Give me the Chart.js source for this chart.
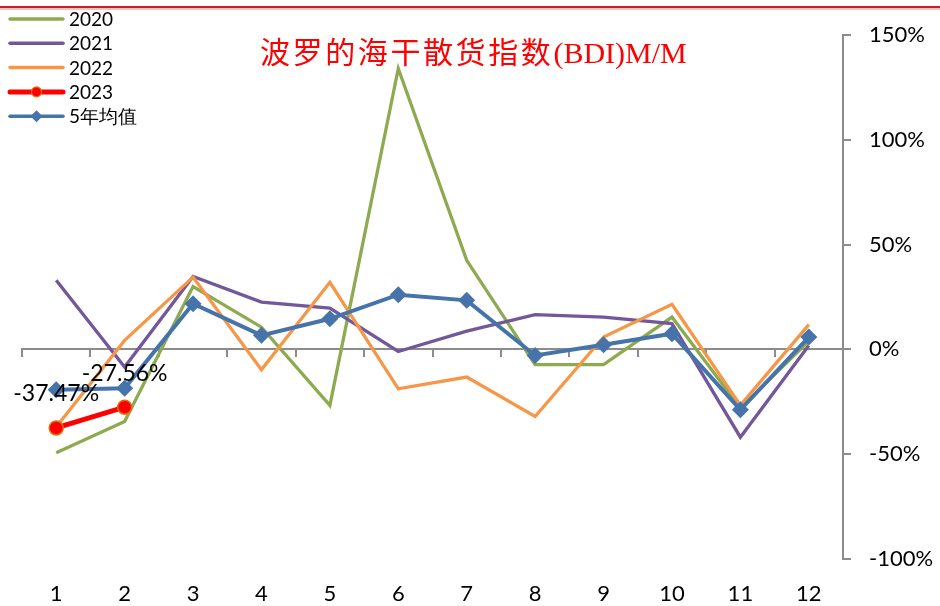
<!DOCTYPE html>
<html>
<head>
<meta charset="utf-8">
<script src="https://cdn.jsdelivr.net/npm/chart.js@4.4.1/dist/chart.umd.min.js"></script>
<style>
  html, body { margin: 0; padding: 0; background: #fff; }
  #wrap { position: relative; width: 940px; height: 606px; overflow: hidden; }
  #c { position: absolute; left: 0; top: 0; }
  #topline { position: absolute; left: 0; top: 6px; width: 940px; height: 2px; background: #C8202A; }
  #topline2 { position: absolute; left: 0; top: 8px; width: 940px; height: 2px; background: #F2C4C4; }
  #title { position: absolute; left: 260px; top: 30px; color: #FF0000; font-size: 30px; line-height: 40px; white-space: nowrap; }
  #title .cjk { font-family: "Noto Sans CJK SC", sans-serif; letter-spacing: 2.6px; }
  #title .lat { font-family: "Liberation Serif", serif; }
</style>
</head>
<body>
<div id="wrap">
  <canvas id="c" width="940" height="606"></canvas>
  <div id="topline"></div>
  <div id="topline2"></div>
  <div id="title"><span class="cjk">波罗的海干散货指数</span><span class="lat">(BDI)M/M</span></div>
</div>
<script>
const months = ['1','2','3','4','5','6','7','8','9','10','11','12'];
const seriesNames = ['2020','2021','2022','2023','5年均值'];
const y2020 = [-49.3, -34.4, 30.0, 10.6, -26.7, 134.0, 42.5, -7.3, -7.2, 15.4, -28.0, 4.0];
const y2021 = [33.0, -8.4, 34.8, 22.6, 19.7, -1.0, 8.7, 16.6, 15.4, 12.3, -41.9, 1.9];
const y2022 = [-37.0, 4.3, 34.5, -9.7, 32.0, -18.8, -13.2, -32.0, 5.9, 21.5, -26.7, 11.8];
const y2023 = [-37.47, -27.56];
const avg5 = [-19.2, -18.5, 21.8, 6.7, 14.6, 26.1, 23.4, -2.9, 2.2, 7.5, -28.8, 5.9];
const yTicks = [-100, -50, 0, 50, 100, 150];

const TICK_FONT = 'Lato, "Liberation Sans", sans-serif';
const AXIS_GRAY = '#8C8C8C';

const dataLabelPlugin = {
  id: 'dataLabel2023',
  afterDatasetsDraw(chart) {
    const idx = 3;
    const meta = chart.getDatasetMeta(idx);
    const ctx = chart.ctx;
    ctx.save();
    ctx.font = '23px ' + TICK_FONT;
    ctx.fillStyle = '#000';
    ctx.textAlign = 'center';
    ctx.textBaseline = 'middle';
    meta.data.forEach((pt, i) => {
      const v = chart.data.datasets[idx].data[i];
      ctx.fillText(v.toFixed(2) + '%', pt.x, pt.y - 34);
    });
    ctx.restore();
  }
};

const legendPlugin = {
  id: 'customLegend',
  afterDraw(chart) {
    const ctx = chart.ctx;
    const order = [0, 1, 2, 3, 4];
    const x0 = 10, x1 = 63, tx = 69, yStart = 19, step = 24.3;
    ctx.save();
    order.forEach((di, k) => {
      const ds = chart.data.datasets[di];
      const y = yStart + k * step;
      ctx.strokeStyle = ds.borderColor;
      ctx.lineWidth = di === 3 ? 5 : 3.5;
      ctx.lineCap = 'round';
      ctx.beginPath();
      ctx.moveTo(x0, y);
      ctx.lineTo(x1, y);
      ctx.stroke();
      if (di === 3) {
        ctx.beginPath();
        ctx.arc((x0 + x1) / 2, y, 5, 0, Math.PI * 2);
        ctx.fillStyle = ds.pointBackgroundColor;
        ctx.fill();
        ctx.lineWidth = 1.2;
        ctx.strokeStyle = ds.pointBorderColor;
        ctx.stroke();
      } else if (di === 4) {
        const cx = (x0 + x1) / 2, r = 6;
        ctx.beginPath();
        ctx.moveTo(cx - r, y); ctx.lineTo(cx, y - r); ctx.lineTo(cx + r, y); ctx.lineTo(cx, y + r);
        ctx.closePath();
        ctx.fillStyle = ds.pointBackgroundColor;
        ctx.fill();
      }
      ctx.fillStyle = '#000';
      ctx.font = '19px ' + TICK_FONT;
      ctx.textAlign = 'left';
      ctx.textBaseline = 'middle';
      ctx.fillText(ds.label, tx, y + 1);
    });
    ctx.restore();
  }
};

const ctx = document.getElementById('c').getContext('2d');
new Chart(ctx, {
  type: 'line',
  data: {
    labels: months,
    datasets: [
      { label: seriesNames[0], data: y2020, borderColor: '#8DAA4F', borderWidth: 3.3, pointRadius: 0, order: 5, tension: 0 },
      { label: seriesNames[1], data: y2021, borderColor: '#72589A', borderWidth: 3.3, pointRadius: 0, order: 4, tension: 0 },
      { label: seriesNames[2], data: y2022, borderColor: '#F79646', borderWidth: 3.3, pointRadius: 0, order: 3, tension: 0 },
      { label: seriesNames[3], data: y2023, borderColor: '#FF0000', borderWidth: 5, pointRadius: 7, pointStyle: 'circle',
        pointBackgroundColor: '#FF0000', pointBorderColor: '#E46C0A', pointBorderWidth: 1.5, order: 2, tension: 0 },
      { label: seriesNames[4], data: avg5, borderColor: '#4674AA', borderWidth: 4, pointRadius: 8.5, pointStyle: 'rectRot',
        pointBackgroundColor: '#4674AA', pointBorderColor: '#4674AA', pointBorderWidth: 0, order: 1, tension: 0 }
    ]
  },
  options: {
    responsive: false,
    animation: false,
    events: [],
    layout: { padding: { left: 22, top: 35, right: 0, bottom: 0 } },
    plugins: { legend: { display: false }, title: { display: false }, tooltip: { enabled: false } },
    scales: {
      x: {
        type: 'category',
        position: 'bottom',
        offset: true,
        grid: { display: false, drawTicks: false },
        border: { display: false },
        ticks: { color: '#000', font: { family: TICK_FONT, size: 22 }, padding: 22, maxRotation: 0, autoSkip: false },
        afterFit(s) { s.height = 47; }
      },
      x2: {
        type: 'category',
        labels: months,
        position: { y: 0 },
        offset: true,
        grid: { display: true, offset: true, drawOnChartArea: false, drawTicks: true, tickLength: 7, color: AXIS_GRAY, lineWidth: 2 },
        border: { display: true, color: AXIS_GRAY, width: 2 },
        ticks: { display: false }
      },
      y: {
        position: 'right',
        min: -100,
        max: 150,
        afterBuildTicks(s) { s.ticks = yTicks.map(v => ({ value: v })); },
        grid: { display: true, drawOnChartArea: false, drawTicks: true, tickLength: 8, color: AXIS_GRAY, lineWidth: 2 },
        border: { display: true, color: AXIS_GRAY, width: 2 },
        ticks: { color: '#000', font: { family: TICK_FONT, size: 22 }, padding: 18, callback: v => v + '%' },
        afterFit(s) { s.width = 97; }
      }
    }
  },
  plugins: [dataLabelPlugin, legendPlugin]
});
</script>
</body>
</html>
